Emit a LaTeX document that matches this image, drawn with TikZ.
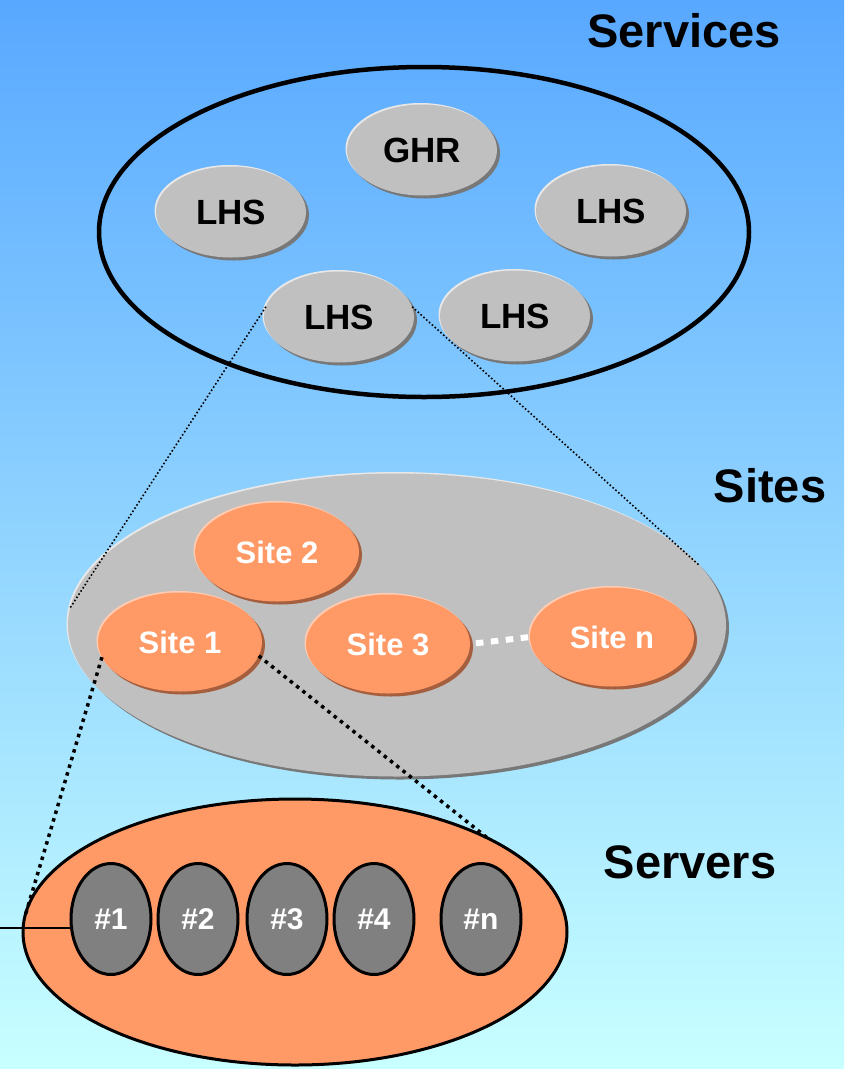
\documentclass[tikz,border=0pt]{standalone}
\usepackage{fontspec}
\setmainfont{Liberation Sans}
\usetikzlibrary{shapes.geometric,shadows}

\definecolor{skytop}{RGB}{88,168,255}
\definecolor{skybottom}{RGB}{200,255,255}
\definecolor{pebble}{RGB}{192,192,192}
\definecolor{pebbledark}{RGB}{120,120,120}
\definecolor{pebblelight}{RGB}{232,232,232}
\definecolor{peach}{RGB}{255,153,102}
\definecolor{peachdark}{RGB}{165,95,62}
\definecolor{peachlight}{RGB}{255,204,178}
\definecolor{slate}{RGB}{128,128,128}

\tikzset{
  raised/.style 2 args={
    general shadow={shadow xshift=3pt, shadow yshift=-3pt, fill=#1},
    general shadow={shadow xshift=-1.5pt, shadow yshift=1.5pt, fill=#2}},
  oval/.style={ellipse, inner sep=0pt, outer sep=0pt},
  hub/.style={oval, fill=pebble, raised={pebbledark}{pebblelight},
    minimum width=150pt, minimum height=91pt,
    font=\fontsize{35}{40}\selectfont\bfseries},
  site/.style={oval, fill=peach, raised={peachdark}{peachlight},
    minimum width=164pt, minimum height=99pt, text=white,
    font=\fontsize{31}{36}\selectfont\bfseries},
  server/.style={oval, fill=slate, draw=black, line width=3pt,
    minimum width=80pt, minimum height=111pt, text=white,
    font=\fontsize{30}{34}\selectfont\bfseries},
  tier/.style={inner sep=0pt, font=\fontsize{47}{52}\selectfont\bfseries},
  thinlink/.style={line width=1.6pt, dash pattern=on 1.6pt off 2.2pt},
  thicklink/.style={line width=3.5pt, dash pattern=on 3.5pt off 4.5pt},
}

\begin{document}
\begin{tikzpicture}[x=1pt, y=-1pt]
  % sky backdrop
  \shade[top color=skytop, bottom color=skybottom] (0,0) rectangle (844,1069);
  \useasboundingbox (0,0) rectangle (844,1069);

  % tier captions
  \node[tier] (capservices) at (684,31) {Services};
  \node[tier] (capsites) at (770,486) {Sites};
  \node[tier] (capservers) at (690,862) {Servers};

  % service tier
  \node[oval, draw=black, line width=4.5pt, minimum width=650pt, minimum height=330pt]
    (services) at (424,232) {};
  \node[hub] (ghr) at (422,150) {GHR};
  \node[hub] (lhs1) at (231,212) {LHS};
  \node[hub] (lhs2) at (611,211) {LHS};
  \node[hub] (lhs3) at (339,317) {LHS};
  \node[hub] (lhs4) at (515,316) {LHS};

  % site tier
  \node[oval, fill=pebble, raised={pebbledark}{pebblelight},
    minimum width=658pt, minimum height=303pt] (sites) at (397,625) {};
  \draw[thinlink] (lhs3.172) -- (sites.177);
  \draw[thinlink] (lhs3.8) -- (sites.11);
  \node[site] (site2) at (277,552) {Site 2};
  \node[site] (site1) at (180,642) {Site 1};
  \node[site] (site3) at (388,644) {Site 3};
  \node[site] (siten) at (612,637) {Site n};
  \draw[white, line width=6pt, dash pattern=on 7.5pt off 7.5pt, shorten <=6pt]
    (site3.east) -- (siten.west);

  % server tier
  \node[oval, fill=peach, draw=black, line width=3pt,
    minimum width=544pt, minimum height=266pt] (servers) at (295,932) {};
  \draw[thicklink] (site1.191) -- (servers.177);
  \draw[thicklink] (site1.350) -- (servers.26);
  \node[server] (srv1) at (111,919) {\#1};
  \node[server] (srv2) at (198,919) {\#2};
  \node[server] (srv3) at (287,919) {\#3};
  \node[server] (srv4) at (374,919) {\#4};
  \node[server] (srvn) at (481,919) {\#n};
  \coordinate (feed) at (0,928);
  \draw[line width=2pt] (feed) -- (feed -| srv1.west);
\end{tikzpicture}
\end{document}
